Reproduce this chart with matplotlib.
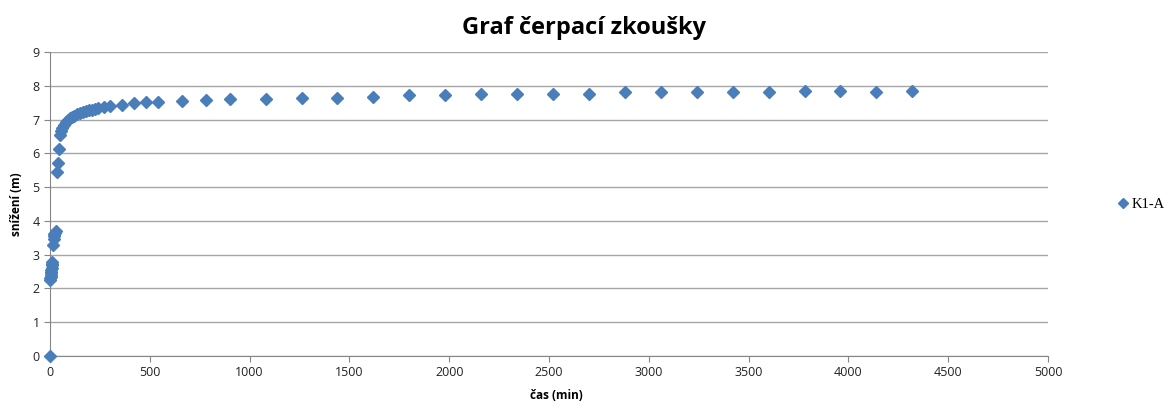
import matplotlib
matplotlib.use("Agg")
import matplotlib.pyplot as plt

# cas (min) a sniženi (m) pro vrt K1-A
cas = [0, 1, 2, 3, 4, 5, 6, 7, 8, 9, 10, 12,
       15, 18, 20, 22, 25, 28,
       35, 40, 45, 50, 55, 60, 70, 80, 90, 100, 110, 120,
       135, 150, 165, 180, 195, 210, 225, 240, 270, 300,
       360, 420, 480, 540, 660, 780, 900, 1080, 1260, 1440,
       1620, 1800, 1980, 2160, 2340, 2520, 2700, 2880, 3060, 3240,
       3420, 3600, 3780, 3960, 4140, 4320]
snizeni = [0.0, 2.25, 2.3, 2.35, 2.4, 2.45, 2.5, 2.55, 2.6, 2.68, 2.72, 2.78,
           3.3, 3.45, 3.55, 3.6, 3.65, 3.7,
           5.45, 5.72, 6.13, 6.55, 6.65, 6.75, 6.85, 6.93, 7.0, 7.05, 7.08, 7.12,
           7.16, 7.2, 7.22, 7.25, 7.27, 7.29, 7.31, 7.33, 7.36, 7.4,
           7.42, 7.48, 7.52, 7.52, 7.55, 7.58, 7.62, 7.62, 7.65, 7.65,
           7.68, 7.72, 7.72, 7.75, 7.75, 7.75, 7.75, 7.82, 7.82, 7.82,
           7.82, 7.82, 7.85, 7.85, 7.82, 7.85]

fig = plt.figure(figsize=(11.69, 4.07), dpi=100)
ax = fig.add_axes([0.0428, 0.1253, 0.8537, 0.7469])

ax.plot(cas, snizeni, linestyle='none', marker='D', markersize=6.3,
        color='#4a7ebb', label='K1-A', clip_on=False, zorder=3)

ax.set_xlim(0, 5000)
ax.set_ylim(0, 9)
ax.set_xticks(range(0, 5001, 500))
ax.set_yticks(range(0, 10))
ax.grid(axis='y', color='#a6a6a6', linewidth=1)
ax.set_axisbelow(True)
for s in ['top', 'right']:
    ax.spines[s].set_visible(False)
for s in ['left', 'bottom']:
    ax.spines[s].set_color('#868686')
ax.tick_params(colors='#868686', labelcolor='#222222', labelsize=9, length=4)

ax.set_xlabel('čas (min)', fontsize=8.5, fontweight='bold', family='Open Sans')
ax.set_ylabel('snížení (m)', fontsize=8.5, fontweight='bold', family='Open Sans')
ax.xaxis.set_label_coords(0.507, -0.108)
ax.xaxis.label.set_va('top')
ax.yaxis.set_label_coords(-0.027, 0.5)
for lab in ax.get_xticklabels() + ax.get_yticklabels():
    lab.set_family('Open Sans')

fig.text(0.5, 0.93, 'Graf čerpací zkoušky', ha='center', va='center',
         fontsize=17, fontweight='bold', family='Open Sans')

ax.legend(loc='center left', bbox_to_anchor=(1.055, 0.5), frameon=False,
          handletextpad=0.1, handlelength=1, markerscale=0.8,
          prop={'family': 'Liberation Serif', 'size': 10.5})

fig.savefig('out.png', dpi=100)
